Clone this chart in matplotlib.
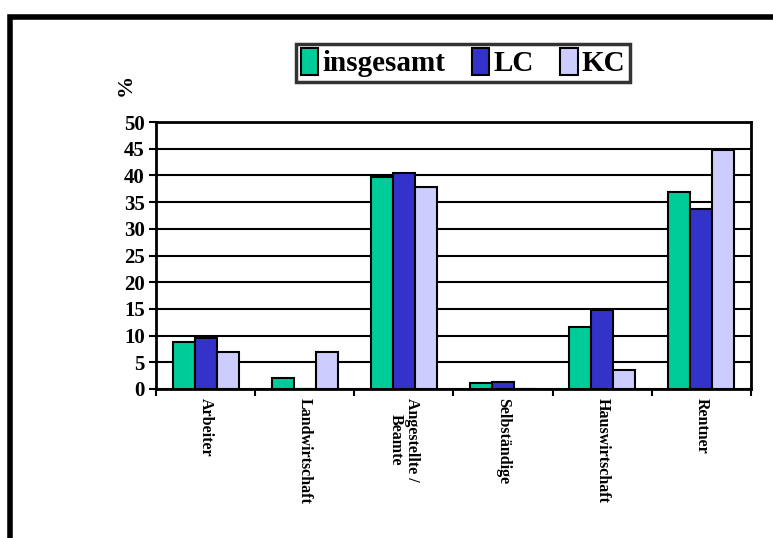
import numpy as np
import matplotlib.pyplot as plt
from matplotlib.patches import Rectangle

categories = ['Arbeiter', 'Landwirtschaft', 'Angestellte /\nBeamte', 'Selbständige',
              'Hauswirtschaft', 'Rentner']
insgesamt = [8.8, 2.0, 39.8, 1.1, 11.7, 36.9]
lc = [9.5, 0.0, 40.5, 1.4, 14.8, 33.8]
kc = [6.9, 6.9, 37.9, 0.0, 3.6, 44.8]
series_names = ['insgesamt', 'LC', 'KC']
colors = ['#00CC99', '#3333CC', '#CCCCFF']

plt.rcParams['font.family'] = 'Liberation Serif'
plt.rcParams['font.weight'] = 'bold'

fig = plt.figure(figsize=(7.73, 5.38), dpi=100)
ax = fig.add_axes([0.2018, 0.277, 0.7697, 0.496])

x = np.arange(len(categories))
w = 0.222
for i, (vals, name) in enumerate(zip([insgesamt, lc, kc], series_names)):
    ax.bar(x + (i - 1) * w, vals, w, color=colors[i], edgecolor='black',
           linewidth=1.5, label=name, zorder=3)

ax.set_xlim(-0.5, len(categories) - 0.5)
ax.set_ylim(0, 50)
ax.set_yticks(range(0, 51, 5))
ax.yaxis.grid(True, color='black', linewidth=1.5, zorder=0)
ax.set_axisbelow(True)
for s in ax.spines.values():
    s.set_linewidth(2)

ax.set_xticks(np.arange(len(categories) + 1) - 0.5)
ax.set_xticklabels([])
ax.tick_params(axis='x', direction='out', length=5, width=1.5)
ax.tick_params(axis='y', direction='out', length=5, width=1.5, labelsize=15, pad=3)
for t in ax.get_yticklabels():
    t.set_fontweight('bold')

for xi, c in zip(x, categories):
    ax.text(xi, -1.6, c, rotation=-90, ha='center', va='top', fontsize=11.5,
            fontweight='bold', multialignment='center', linespacing=1.0)

fig.text(0.163, 0.842, '%', rotation=90, ha='center', va='center', fontsize=16,
         fontweight='bold')

leg = fig.legend(loc='center', bbox_to_anchor=(0.599, 0.883), ncol=3,
                 frameon=True, fancybox=False, edgecolor='black', handlelength=0.6,
                 handleheight=1.0, handletextpad=0.15, columnspacing=0.9,
                 borderpad=0.15, prop={'weight': 'bold', 'size': 21})
leg.get_frame().set_linewidth(2.5)

fig.patches.append(Rectangle((0.013, -0.1), 1.2, 1.068, transform=fig.transFigure,
                             fill=False, edgecolor='black', linewidth=4))

fig.savefig('out.png', dpi=100)
